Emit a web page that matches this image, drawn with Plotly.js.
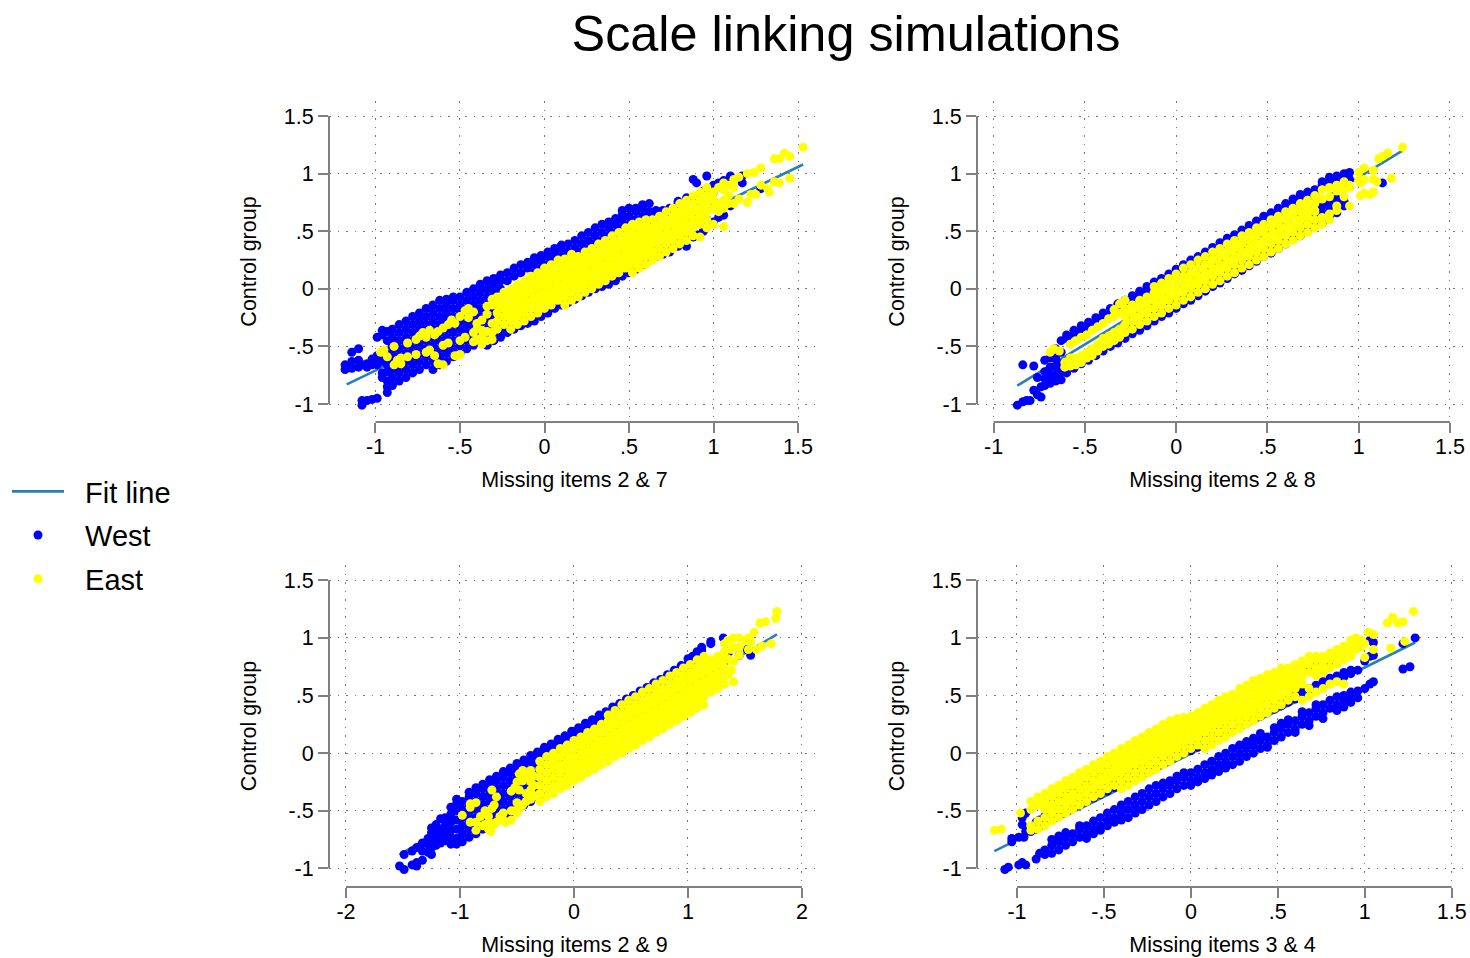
<!DOCTYPE html>
<html><head><meta charset="utf-8">
<script src="https://cdn.plot.ly/plotly-3.0.1.min.js"></script>
<style>html,body{margin:0;padding:0;background:#fff}</style></head>
<body><div id="c" style="width:1470px;height:958px"></div>
<script>
// every row: [x, y, y, ...]
const west27=[
[-1.18,-.66,-.7],[-1.14,-.55,-.63,-.69],[-1.1,-.52,-.62,-.68],[-1.08,-1.01,-.97,-.66],[-1.05,-.65,-.68,-.97],[-1.02,-.61,-.66,-.96],
[-.99,-.95,-.42,-.58,-.66,-.6],[-.96,-.4,-.36,-.77,-.73,-.63,-.55],[-.93,-.9,-.85,-.37,-.45,-.72,-.8,-.66,-.54],
[-.9,-.84,-.77,-.7,-.63,-.56,-.49,-.42,-.35],[-.86,-.8,-.73,-.66,-.59,-.52,-.45,-.38,-.31],[-.82,-.77,-.7,-.63,-.56,-.49,-.42,-.35,-.28],
[-.78,-.73,-.66,-.59,-.52,-.45,-.38,-.31,-.24],[-.74,-.7,-.63,-.56,-.49,-.42,-.35,-.28,-.21],[-.7,-.66,-.59,-.52,-.45,-.38,-.31,-.24,-.17],
[-.66,-.7,-.63,-.56,-.49,-.42,-.35,-.28,-.21,-.14],[-.62,-.66,-.59,-.52,-.45,-.38,-.31,-.24,-.17,-.1],[-.58,-.63,-.56,-.49,-.42,-.35,-.28,-.21,-.14,-.09],
[-.54,-.59,-.52,-.45,-.38,-.31,-.24,-.17,-.1,-.07],[-.5,-.56,-.49,-.42,-.35,-.28,-.21,-.14,-.07],[-.46,-.52,-.45,-.38,-.31,-.24,-.17,-.1,-.03],
[-.42,-.49,-.42,-.35,-.28,-.21,-.14,-.07,0],[-.38,-.45,-.38,-.31,-.24,-.17,-.1,-.03,.04],[-.34,-.49,-.42,-.35,-.28,-.21,-.14,-.07,0,.07],
[-.3,-.45,-.38,-.31,-.24,-.17,-.1,-.03,.04,.09],[-.26,-.42,-.35,-.28,-.21,0,.07,.12],[-.22,-.38,-.31,.14,.07],[-.18,.18,.11,-.35],[-.14,.21,.14,-.28,-.32],[-.1,.23,.18,-.24,-.3],
[-.06,.27,.21,.14,-.28,-.21],[-.02,.29,.25,.18,-.24],[.02,.32,.28,.21,-.21],[.06,.35,.32,.25,-.17],[.1,.38,.35,.28,-.14],[.14,.39,.32,-.1,-.12],[.18,.42,.35,-.07,-.09],
[.22,.46,.39,.32,-.06],[.26,.49,.42,.35,0,-.03],[.3,.53,.46,.39,0],[.34,.56,.49,.42,.02],[.38,.58,.53,.46,.04],[.42,.61,.56,.49,.07],[.46,.68,.64,.6,.53,.11],[.5,.7,.63,.56,.14],
[.54,.7,.67,.6,.17],[.58,.73,.7,.63,.21],[.62,.74,.67,.6,.25],
[.66,.28,.33,.62,.68],[.7,.3,.36,.68],[.74,.32,.38,.66,.7],[.79,.37,.42,.74,.76],[.84,.37,.45,.79],[.88,.45,.95,.8],[.9,.47,.92,.76],[.94,.5,.85],
[.96,.98,.6,.82],[1,.58,.72,.84,.9],[1.03,.62,.92,.88],[1.06,.64,.94],[1.1,.72,.96,.98],[1.17,.98,.92],[1.28,.87]];
const east27=[
[-.97,-.55],[-.95,-.53],[-.93,-.59],[-.89,-.66,-.5],[-.87,-.62],[-.85,-.65,-.6],[-.81,-.47,-.59],[-.76,-.44,-.57],[-.74,-.41],
[-.72,-.38],[-.7,-.42,-.55],[-.68,-.53,-.36],[-.65,-.4,-.58],[-.63,-.37,-.65],[-.6,-.34,-.66,-.49],[-.57,-.31,-.47],[-.55,-.27],[-.53,-.3,-.58],
[-.5,-.57,-.45,-.24],[-.47,-.19,-.42],[-.45,-.17,-.25],[-.42,-.2,-.38,-.46],[-.4,-.3,-.44,-.35],[-.37,-.48,-.42,-.36,-.27],[-.34,-.45,-.15,-.22,-.37],
[-.31,-.09,-.14,-.3,-.38,-.44],[-.28,-.35,-.28,-.21,-.14,-.07],[-.24,-.31,-.24,-.17,-.1,-.03],[-.2,-.35,-.28,-.21,-.14,-.07,0],[-.16,-.31,-.24,-.17,-.1,-.03,.04],
[-.12,-.28,-.21,-.14,-.07,0,.07],[-.08,-.24,-.17,-.1,-.03,.04,.11],[-.04,-.21,-.14,-.07,0,.07,.14],[0,-.17,-.1,-.03,.04,.11,.18],[.04,-.14,-.07,0,.07,.14,.21],
[.08,-.1,-.03,.04,.11,.18,.25],[.12,-.14,-.07,0,.07,.14,.21,.26],[.16,-.1,-.03,.04,.11,.18,.25,.3],[.2,-.07,0,.07,.14,.21,.28],[.24,-.03,.04,.11,.18,.25,.32],
[.28,0,.07,.14,.21,.28,.35],[.32,.04,.11,.18,.25,.32,.39],[.36,.07,.14,.21,.28,.35,.42],[.4,.11,.18,.25,.32,.39,.46],[.44,.14,.21,.28,.35,.42,.49],
[.48,.18,.25,.32,.39,.46,.53],[.52,.14,.21,.28,.35,.42,.49,.56],[.56,.18,.25,.32,.39,.46,.53,.58],[.6,.21,.28,.35,.42,.49,.56,.6],[.64,.25,.32,.39,.46,.53,.6],
[.68,.28,.35,.42,.49,.56,.63],[.72,.32,.39,.46,.53,.6,.67],[.76,.35,.42,.49,.56,.63,.7],[.8,.39,.46,.53,.6,.67,.74],[.84,.42,.49,.56,.63,.7,.77],
[.88,.46,.53,.6,.67,.74,.81],[.92,.45,.56,.63,.7,.77,.84],[.96,.53,.6,.67,.74,.81,.88],[1,.56,.7,.77,.84],[1.03,.67,.74,.88],[1.06,.54,.7,.77,.86,.92],
[1.09,.74,.81,.9],[1.12,.74,.88,.95],[1.15,.97,.78],[1.2,.75,1],[1.22,.82],[1.24,1.01],[1.25,.82],[1.28,1.05,.9],[1.32,.87],[1.33,.84],
[1.36,1.13,.93],[1.39,1.13,.92],[1.42,1.18],[1.45,1.15,.96],[1.53,1.23]];
const west28=[
[-.87,-1.01],[-.84,-.98,-.66],[-.82,-.97],[-.8,-.97],[-.78,-.67,-.88],[-.76,-.77,-.92],[-.74,-.85,-.94],[-.72,-.84,-.78,-.72,-.62],
[-.69,-.82,-.75,-.68,-.6],[-.66,-.8,-.74,-.67,-.6,-.52],[-.63,-.79,-.72,-.65,-.55,-.45],[-.6,-.73,-.66,-.43,-.4],[-.56,-.69,-.63,-.4,-.36],
[-.52,-.65,-.59,-.36,-.32],[-.48,-.62,-.56,-.33,-.29],[-.44,-.58,-.53,-.29,-.25],[-.4,-.54,-.49,-.25,-.21],[-.36,-.5,-.45,-.21,-.17],
[-.32,-.47,-.42,-.17,-.13],[-.28,-.43,-.38,-.14,-.1],[-.24,-.39,-.34,-.1,-.06],[-.2,-.36,-.31,-.06,-.02],[-.16,-.32,-.27,-.02,.02],
[-.12,-.28,-.23,.02,.06],[-.08,-.24,-.2,.05,.09],[-.04,-.21,-.16,.09,.13],[0,-.17,-.13,.13,.17],[.04,-.13,-.09,.17,.21],[.08,-.1,-.05,.21,.25],
[.12,-.06,-.02,.24,.28],[.16,-.02,.02,.28,.32],[.2,.02,.06,.32,.36],[.24,.05,.1,.36,.4],[.28,.09,.13,.4,.44],[.32,.13,.17,.43,.47],
[.36,.16,.21,.47,.51],[.4,.2,.25,.51,.55],[.44,.24,.28,.55,.59],[.48,.28,.32,.59,.63],[.52,.31,.36,.62,.66],[.56,.35,.4,.66,.7],
[.6,.39,.43,.7,.74],[.64,.43,.47,.74,.78],[.68,.46,.5,.78,.82],[.72,.5,.56,.78,.84],[.76,.54,.62,.86,.81],[.8,.57,.66,.72,.9,.93],
[.84,.63,.68,.74,.92,.97],[.88,.66,.72,.78,.94,.98],[.92,.72,.76,.97,1],[.95,.95,1.01],[1.13,.92]];
const east28=[
[-.69,-.55],[-.67,-.52],[-.64,-.54],[-.61,-.68,-.64],[-.58,-.67,-.6,-.48],[-.55,-.66,-.6,-.45],[-.52,-.64,-.58,-.42],[-.49,-.6,-.55,-.4],
[-.46,-.58,-.52,-.36],[-.43,-.54,-.48,-.33],[-.4,-.5,-.43,-.3],[-.37,-.48,-.41,-.26],[-.34,-.45,-.38,-.24,-.18],[-.31,-.42,-.35,-.21,-.13],
[-.28,-.38,-.31,-.24,-.17,-.1],[-.24,-.35,-.28,-.21,-.14],[-.2,-.31,-.24,-.17,-.1],[-.16,-.28,-.21,-.14,-.07],[-.12,-.24,-.17,-.1,-.03,.02],
[-.08,-.21,-.14,-.07,0,.05],[-.04,-.17,-.1,-.03,.04,.09],[0,-.14,-.07,0,.07,.13],[.04,-.1,-.03,.04,.11,.18],[.08,-.07,0,.07,.14,.21],
[.12,-.03,.04,.11,.18,.25],[.16,0,.07,.14,.21,.28],[.2,.04,.11,.18,.25,.32],[.24,.07,.14,.21,.28,.35],[.28,.11,.18,.25,.32,.39],
[.32,.14,.21,.28,.35,.42],[.36,.18,.25,.32,.39,.46],[.4,.21,.28,.35,.42,.49],[.44,.25,.32,.39,.46,.53],[.48,.28,.35,.42,.49,.56],
[.52,.32,.39,.46,.53,.6],[.56,.35,.42,.49,.56,.63],[.6,.39,.46,.53,.6,.67],[.64,.42,.49,.56,.63,.7],[.68,.46,.53,.6,.67,.74],
[.72,.49,.56,.63,.7,.77],[.76,.53,.6,.67,.74,.81],[.8,.56,.62,.78,.86],[.84,.6,.65,.8,.88],[.88,.68,.72,.85,.9],[.92,.8,.87,.93],[.95,.72,.88,.9],
[1,.94,1.01],[1.01,.81,.92],[1.03,1.05,.83,.95],[1.06,.82],[1.08,1.03,.84,.95],[1.1,.93],[1.11,1.13],[1.13,1.15],[1.16,1.18],[1.18,.96],[1.24,1.23]];
const west29=[
[-1.53,-.98],[-1.49,-1.01,-.88],[-1.42,-.97,-.85],[-1.38,-.95,-.98,-.82],[-1.33,-.93,-.85,-.78],[-1.28,-.86,-.79,-.74],[-1.25,-.88,-.82,-.76,-.69,-.65],
[-1.21,-.8,-.74,-.68,-.62],[-1.17,-.78,-.72,-.66,-.57],[-1.13,-.76,-.7,-.63,-.56],[-1.08,-.79,-.73,-.67,-.6,-.53,-.47],[-1.03,-.79,-.74,-.66,-.58,-.5,-.44,-.4],
[-.98,-.77,-.7,-.63,-.56,-.49,-.42],[-.92,-.73,-.66,-.59,-.52,-.45,-.38,-.34],[-.86,-.7,-.63,-.56,-.49,-.42,-.35,-.3],[-.8,-.66,-.59,-.52,-.45,-.38,-.31,-.27],
[-.74,-.63,-.56,-.49,-.42,-.35,-.28,-.23],[-.68,-.59,-.52,-.45,-.38,-.31,-.24,-.2],[-.62,-.56,-.49,-.42,-.35,-.28,-.21,-.16],[-.56,-.52,-.45,-.38,-.31,-.24,-.17,-.13],
[-.5,-.49,-.42,-.35,-.28,-.21,-.14,-.09],[-.44,-.45,-.38,-.31,-.24,-.17,-.1,-.06],[-.38,-.42,-.35,-.28,-.21,-.14,-.07,-.02],[-.32,-.38,-.31,-.24,-.17,-.1,-.03,.01],
[-.26,-.35,-.28,-.21,-.14,-.07,0,.05],[-.2,-.25,-.17,.02,.05,.08],[-.14,-.2,.04,.08,.12],[-.08,-.18,.08,.12,.15],[-.02,.12,.16,.19],[.04,.16,.2,.22],[.1,.19,.23,.26],
[.16,.23,.27,.29],[.22,.26,.3,.33],[.28,.3,.33,.36],[.34,.33,.37,.4],[.4,.37,.41,.43],[.46,.4,.44,.47],[.52,.44,.47,.5],[.58,.47,.5,.54],[.64,.5,.54,.57],
[.7,.54,.58,.61],[.76,.58,.61,.64],[.82,.62,.66,.68],[.88,.65,.7,.72],[.94,.7,.74,.76],[1,.74,.78,.82],[1.04,.8,.84],[1.08,.85,.88],[1.12,.89,.92],
[1.2,.95,.97],[1.31,1],[1.36,.88],[1.45,.85],[1.52,.9],[1.55,.85]];
const east29=[
[-.98,-.54],[-.91,-.44,-.47,-.6],[-.86,-.43,-.6,-.67],[-.82,-.55],[-.8,-.63],[-.78,-.5,-.62],[-.75,-.66,-.55],[-.73,-.68,-.61],[-.72,-.32,-.48],
[-.7,-.45,-.62],[-.68,-.38,-.6],[-.65,-.55],[-.62,-.58,-.52],[-.6,-.6],[-.55,-.58,-.33,-.5],[-.52,-.5,-.3],[-.5,-.52,-.43,-.25],[-.48,-.48,-.18,-.32],
[-.45,-.45,-.15,-.24],[-.42,-.42,-.2,-.35],[-.38,-.4,-.32,-.25,-.15],[-.35,-.37,-.28,-.2],[-.3,-.42,-.35,-.28,-.21,-.14,-.07],[-.24,-.38,-.31,-.24,-.17,-.1,-.03],
[-.18,-.35,-.28,-.21,-.14,-.07,0],[-.12,-.31,-.24,-.17,-.1,-.03,.04],[-.06,-.28,-.21,-.14,-.07,0,.07],[0,-.24,-.17,-.1,-.03,.04,.11],
[.06,-.21,-.14,-.07,0,.07,.14],[.12,-.17,-.1,-.03,.04,.11,.18],[.18,-.14,-.07,0,.07,.14,.21],[.24,-.1,-.03,.04,.11,.18,.25],
[.3,-.07,0,.07,.14,.21,.28,.33],[.36,-.03,.04,.11,.18,.25,.32,.37],[.42,0,.07,.14,.21,.28,.35,.42],[.48,.04,.11,.18,.25,.32,.39,.46],
[.54,.07,.14,.21,.28,.35,.42,.49],[.6,.11,.18,.25,.32,.39,.46,.53],[.66,.14,.21,.28,.35,.42,.49,.56],[.72,.18,.25,.32,.39,.46,.53,.6],
[.78,.21,.28,.35,.42,.49,.56,.63],[.84,.25,.32,.39,.46,.53,.6,.67],[.9,.28,.35,.42,.49,.56,.63,.7],[.96,.32,.39,.46,.53,.6,.67,.74],
[1.02,.35,.42,.49,.56,.63,.7,.77],[1.08,.39,.46,.53,.6,.67,.74,.81],[1.14,.42,.49,.56,.63,.7,.77,.84],[1.2,.53,.6,.67,.74,.81],
[1.26,.56,.63,.7,.77,.84],[1.32,.6,.67,.74,.81,.88,.95],[1.35,.68,.82,.98],
[1.38,.72,.8,.9],[1.4,.62,.8,.92,1],[1.45,.85,.92,1],[1.5,.98],[1.53,.9,1],[1.55,.97],[1.6,.9],[1.58,1.05],[1.63,1.13],[1.65,.93],[1.68,1.14],[1.73,.95],
[1.77,1.17],[1.78,1.23]];
const west34=[
[-1.07,-1.01],[-1.05,-.99],[-1.03,-.77,-.74],[-.99,-.97,-.73],[-.97,-.62,-.56,-.95],[-.96,-.73,-.53],[-.95,-.97,-.68,-.52],
[-.92,-.68,-.64],[-.89,-.92,-.66,-.6],[-.87,-.87,-.64,-.58],[-.84,-.88,-.84,-.6,-.55],[-.8,-.87,-.8,-.75,-.58,-.53,-.42],[-.76,-.84,-.77,-.72,-.55,-.5,-.42,-.37],
[-.72,-.8,-.73,-.69,-.51,-.46,-.36],[-.68,-.77,-.7,-.48,-.43,-.33],[-.64,-.73,-.66,-.63,-.45,-.4,-.31],[-.6,-.74,-.7,-.63,-.42,-.37,-.27],
[-.56,-.7,-.66,-.59,-.39,-.34,-.18],[-.52,-.67,-.63,-.56,-.36,-.31,-.15],[-.48,-.63,-.59,-.52,-.33,-.28,-.1],[-.44,-.6,-.56,-.49,-.3,-.25],
[-.4,-.58,-.52,-.45,-.27,-.22],[-.36,-.56,-.49,-.42,-.24,-.19],[-.32,-.52,-.45,-.38,-.21,-.16],[-.28,-.49,-.42,-.35,-.18,-.13],[-.24,-.45,-.38,-.31,-.15,-.1],
[-.2,-.42,-.35,-.28,-.12,-.07],[-.16,-.38,-.31,-.26,-.09,-.04],[-.12,-.35,-.28,-.24,-.06,-.01],[-.08,-.31,-.24,-.2,-.03,.02],[-.04,-.28,-.21,-.17,0,.05],
[0,-.28,-.24,-.17,.02,.07],[.04,-.25,-.21,-.14,.05,.1],[.08,-.22,-.17,-.1,.08,.13],[.12,-.19,-.14,-.07,.11,.16],[.16,-.16,-.1,-.03,.14,.19],
[.2,-.13,-.07,0,.17,.22],[.24,-.1,-.03,.04,.2,.25],[.28,-.07,0,.07,.23,.28],[.32,-.03,.04,.1,.26,.31],[.36,0,.07,.13,.29,.34],[.4,.04,.11,.17,.32,.37],
[.44,.05,.07,.14,.35,.38,.42],[.48,.11,.18,.22,.38,.42],[.52,.14,.21,.26,.41,.45],[.56,.18,.25,.29,.44,.47],[.6,.18,.21,.28,.47,.51],[.64,.25,.32,.36,.5,.54],
[.68,.24,.28,.35,.53,.56,.74],[.72,.32,.39,.42,.55,.59,.75],[.76,.3,.35,.42,.58,.62],[.8,.39,.46,.61,.65,.78],[.84,.37,.42,.49,.63,.67],
[.88,.4,.46,.5,.66,.7],[.92,.44,.49,.53,.69,.72],[.96,.48,.54,.72],[1,.56,.8],[1.03,.6,.84,.98],[1.05,.62,.85,.96],[1.22,.73,.95],[1.26,.75],[1.29,1]];
const east34=[
[-1.13,-.67],[-1.09,-.66],[-.98,-.52],[-.92,-.49,-.42,-.63,-.67],[-.88,-.45,-.38,-.59,-.66],[-.84,-.49,-.42,-.35,-.63,-.56],[-.8,-.45,-.38,-.31,-.59,-.52],
[-.76,-.42,-.35,-.28,-.56,-.49],[-.72,-.38,-.31,-.24,-.52,-.45],[-.68,-.35,-.28,-.21,-.49,-.42],[-.64,-.31,-.24,-.17,-.45,-.38],[-.6,-.28,-.21,-.14,-.42,-.35],
[-.56,-.24,-.17,-.1,-.38,-.31],[-.52,-.21,-.14,-.07,-.35,-.28],[-.48,-.17,-.1,-.03,-.31,-.24],[-.44,-.14,-.07,0,-.28,-.21],[-.4,-.1,-.03,.04,-.31,-.24,-.17],
[-.36,-.07,0,.07,-.28,-.21,-.14],[-.32,-.03,.04,.11,-.24,-.17,-.1],[-.28,0,.07,.14,-.21,-.14,-.07],[-.24,-.03,.04,.11,.18,-.17,-.1],[-.2,0,.07,.14,.21,-.14,-.07],
[-.16,.04,.11,.18,.25,-.1,-.03],[-.12,.07,.14,.21,.28,-.07,0],[-.08,.04,.11,.18,.25,.3,-.03],[-.04,.07,.14,.21,.28,.31,0],[0,.04,.11,.18,.25,.32],
[.04,.07,.14,.21,.28,.35],[.08,.04,.11,.18,.25,.32,.39],[.12,.07,.14,.21,.28,.35,.42],[.16,.11,.18,.25,.32,.39,.46],[.2,.14,.21,.28,.35,.42,.49],[.24,.18,.25,.32,.39,.46,.51],
[.28,.21,.28,.35,.42,.49,.56],[.32,.25,.32,.39,.46,.53,.59],[.36,.28,.35,.42,.49,.56,.63],[.4,.32,.39,.46,.53,.6,.65],[.44,.35,.42,.49,.56,.63,.68],[.48,.39,.46,.53,.6,.67,.7],
[.52,.42,.49,.56,.63,.7,.74],[.56,.46,.53,.6,.67,.74],[.6,.49,.56,.63,.7,.77],[.64,.46,.6,.67,.74,.8],[.68,.49,.56,.7,.77,.84],[.72,.53,.67,.74,.81,.84],[.76,.56,.7,.77,.84],
[.8,.6,.74,.81,.87],[.84,.62,.77,.84,.9],[.88,.6,.81,.88,.93],[.92,.84,.91,.98],[.95,.9,.93,1],[.98,.92,.98],[1,.83,.95],[1.02,1.05],[1.05,1.03,.9],[1.13,1.13],[1.15,.91],[1.16,1.18],
[1.19,1.13],[1.22,1.14],[1.23,.97],[1.28,1.23]];
const fit27x=[-1.17,1.53], fit27y=[-.83,1.08];
const fit28x=[-.87,1.24], fit28y=[-.84,1.2];
const fit29x=[-1.53,1.78], fit29y=[-.88,1.03];
const fit34x=[-1.13,1.29], fit34y=[-.85,.96];
const yTicks=[-1,-.5,0,.5,1,1.5], yLabels=['-1','-.5','0','.5','1','1.5'];
const xTicksA=[-1,-.5,0,.5,1,1.5], xLabelsA=['-1','-.5','0','.5','1','1.5'];
const xTicksB=[-2,-1,0,1,2], xLabelsB=['-2','-1','0','1','2'];
const flat=r=>{const xs=[],ys=[];r.forEach(a=>a.slice(1).forEach(y=>{xs.push(a[0]);ys.push(y)}));return[xs,ys]};
const W=1470,H=958,GREY='#808080',FONT='"Liberation Sans", Arial, sans-serif';
const panels=[
 {w:west27,e:east27,fx:fit27x,fy:fit27y,t:'Missing items 2 & 7',xt:xTicksA,xl:xLabelsA,px:[329,820],py:[101,422],xr:[-1.275,1.63],yr:[-1.156,1.631]},
 {w:west28,e:east28,fx:fit28x,fy:fit28y,t:'Missing items 2 & 8',xt:xTicksA,xl:xLabelsA,px:[977,1468],py:[101,422],xr:[-1.091,1.599],yr:[-1.156,1.631]},
 {w:west29,e:east29,fx:fit29x,fy:fit29y,t:'Missing items 2 & 9',xt:xTicksB,xl:xLabelsB,px:[329,820],py:[565,887],xr:[-2.149,2.158],yr:[-1.162,1.633]},
 {w:west34,e:east34,fx:fit34x,fy:fit34y,t:'Missing items 3 & 4',xt:xTicksA,xl:xLabelsA,px:[977,1468],py:[565,887],xr:[-1.23,1.594],yr:[-1.162,1.633]}];
const data=[],shapes=[];
const layout={width:W,height:H,margin:{l:0,r:0,t:0,b:0},paper_bgcolor:'#fff',plot_bgcolor:'#fff',showlegend:true,hovermode:false,
 font:{family:FONT,color:'#000',size:21.5},
 title:{text:'Scale linking simulations',font:{size:50.4,family:FONT,color:'#000'},x:846/W,xanchor:'center',xref:'paper',y:1-33/H,yanchor:'middle'},
 legend:{x:7/W,xanchor:'left',y:1-466/H,yanchor:'top',font:{size:29,family:FONT},itemwidth:52,tracegroupgap:3,bgcolor:'rgba(0,0,0,0)',borderwidth:0,itemsizing:'trace'},shapes};
panels.forEach((p,i)=>{
 const s=i?String(i+1):'',xa='x'+s,ya='y'+s;
 const show=i===0;
 data.push({type:'scatter',mode:'lines',x:p.fx,y:p.fy,xaxis:xa,yaxis:ya,name:'\u00a0\u00a0Fit line',legendgroup:'a',showlegend:show,line:{color:'#2a7fb5',width:2.6}});
 const [wx,wy]=flat(p.w),[ex,ey]=flat(p.e);
 data.push({type:'scatter',mode:'markers',x:wx,y:wy,xaxis:xa,yaxis:ya,name:'\u00a0\u00a0West',legendgroup:'b',showlegend:show,marker:{color:'#0000ff',size:9,line:{width:0}}});
 data.push({type:'scatter',mode:'markers',x:ex,y:ey,xaxis:xa,yaxis:ya,name:'\u00a0\u00a0East',legendgroup:'c',showlegend:show,marker:{color:'#ffff00',size:9,line:{width:0}}});
 const common={showline:false,zeroline:false,showgrid:true,gridcolor:'#777777',gridwidth:1.2,griddash:'1.5px,7px',ticks:'outside',ticklen:10,tickwidth:1.5,tickcolor:GREY,tickmode:'array',tickfont:{size:21.5,family:FONT,color:'#000'},tickangle:0,fixedrange:true};
 layout['xaxis'+s]=Object.assign({},common,{domain:[p.px[0]/W,p.px[1]/W],range:p.xr,anchor:ya,tickvals:p.xt,ticktext:p.xl,ticklabelstandoff:-5,title:{text:p.t,font:{size:21.5,family:FONT,color:'#000'},standoff:14}});
 layout['yaxis'+s]=Object.assign({},common,{domain:[1-p.py[1]/H,1-p.py[0]/H],range:p.yr,anchor:xa,tickvals:yTicks,ticktext:yLabels,title:{text:'Control group',font:{size:21.5,family:FONT,color:'#000'},standoff:21}});
 const ln={color:GREY,width:2};
 shapes.push({type:'line',xref:xa,yref:ya+' domain',x0:p.xt[0],x1:p.xt[p.xt.length-1],y0:0,y1:0,line:ln,layer:'above'});
 shapes.push({type:'line',xref:xa+' domain',yref:ya,x0:0,x1:0,y0:yTicks[0],y1:yTicks[yTicks.length-1],line:ln,layer:'above'});
});
Plotly.newPlot('c',data,layout,{displayModeBar:false,responsive:false});
</script></body></html>
